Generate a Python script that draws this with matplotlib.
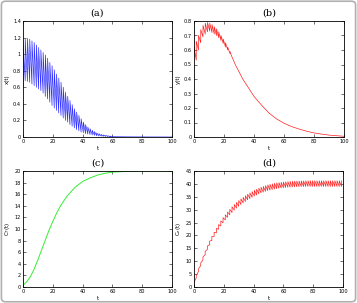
import numpy as np
import matplotlib
matplotlib.use("Agg")
import matplotlib.pyplot as plt
from matplotlib.patches import FancyBboxPatch
from matplotlib.ticker import FormatStrFormatter

# tooth spacing of the pulsed curves (time units)
period = 1.5

# (a) x(t): value after each pulse (peak) and just before it (trough)
a_peak = [1.13, 1.18, 1.19, 1.18, 1.16, 1.14, 1.11, 1.08, 1.05, 1.02,
          0.99, 0.95, 0.90, 0.86, 0.81, 0.76, 0.71, 0.66, 0.60, 0.54,
          0.49, 0.44, 0.39, 0.34, 0.30, 0.26, 0.22, 0.18, 0.15, 0.12,
          0.10, 0.08, 0.065, 0.05, 0.04, 0.03, 0.025, 0.02, 0.015, 0.01]
a_trough = [0.60, 0.68, 0.67, 0.66, 0.64, 0.62, 0.60, 0.58, 0.56, 0.53,
            0.49, 0.46, 0.42, 0.38, 0.35, 0.32, 0.29, 0.26, 0.23, 0.20,
            0.18, 0.15, 0.13, 0.11, 0.09, 0.075, 0.06, 0.05, 0.04, 0.035,
            0.03, 0.025, 0.02, 0.015, 0.012, 0.01, 0.008, 0.006, 0.005, 0.004]
a_tail_t = [60, 70, 80, 90, 100]
a_tail = [0.004, 0.002, 0.001, 0.0005, 0.0]

# (b) y(t)
b_peak = [0.62, 0.66, 0.70, 0.74, 0.77, 0.785, 0.79, 0.785, 0.775, 0.76,
          0.745, 0.725, 0.70, 0.675, 0.65, 0.62, 0.59]
b_trough = [0.565, 0.53, 0.60, 0.65, 0.69, 0.71, 0.725, 0.73, 0.72, 0.71,
            0.70, 0.685, 0.665, 0.645, 0.62, 0.60, 0.575]
b_tail_t = [25, 27.5, 30, 32.5, 35, 37.5, 40, 45, 50, 55, 60, 65, 70,
            75, 80, 85, 90, 95, 100]
b_tail = [0.56, 0.50, 0.45, 0.40, 0.36, 0.32, 0.28, 0.22, 0.165, 0.125,
          0.095, 0.072, 0.055, 0.04, 0.028, 0.02, 0.013, 0.009, 0.005]

# (c) smooth curve
c_t = [0, 2.5, 5, 7.5, 10, 12.5, 15, 17.5, 20, 22.5, 25, 27.5, 30, 35,
       40, 45, 50, 55, 60, 70, 80, 90, 100]
c_val = [0.3, 0.9, 1.8, 3.1, 4.7, 6.4, 8.1, 9.8, 11.3, 12.7, 13.9, 14.9,
         15.8, 17.2, 18.2, 18.8, 19.3, 19.6, 19.8, 19.95, 20.0, 20.0, 20.0]

# (d) value before each pulse, and the pulse size
d_low = [1.0, 3.5, 6.0, 8.3, 10.5, 12.6, 14.6, 16.4, 18.1, 19.6,
         21.0, 22.4, 23.7, 24.9, 26.0, 27.0, 28.0, 28.9, 29.8, 30.6,
         31.3, 32.0, 32.6, 33.2, 33.8, 34.3, 34.8, 35.3, 35.7, 36.1,
         36.5, 36.8, 37.1, 37.4, 37.6, 37.8, 38.0, 38.15, 38.3, 38.4,
         38.5, 38.6, 38.7, 38.75, 38.8, 38.85, 38.9, 38.9, 38.95, 38.95,
         39.0, 39.0, 39.0, 39.0, 39.0, 39.0, 39.0, 39.0, 39.0, 39.0,
         39.0, 39.0, 39.0, 39.0, 39.0, 39.0, 39.0]
d_jump = [0.8, 0.9, 1.0, 1.0, 1.1, 1.2, 1.3, 1.4, 1.5, 1.6,
          1.7, 1.8, 1.9, 2.0, 2.0, 2.1, 2.1, 2.2, 2.2, 2.2] + [2.2] * 47


def zigzag(low, high):
    # jump up at each pulse time, then straight down to the next trough
    tk = np.arange(len(low)) * period
    xs, ys = [], []
    for k in range(len(low)):
        xs += [tk[k], tk[k]]
        ys += [low[k], high[k]]
    return xs, ys


W, H = 357, 303
fig = plt.figure(figsize=(W / 100, H / 100), dpi=100)

# light frame round the picture
frame = FancyBboxPatch((0.004, 0.004), 0.992, 0.992,
                       boxstyle="round,pad=0,rounding_size=0.012",
                       transform=fig.transFigure, facecolor="white",
                       edgecolor="#b0b0b0", linewidth=1.2, zorder=-5)
fig.patches.append(frame)


def make_ax(px_left, px_top, px_w, px_h):
    ax = fig.add_axes([px_left / W, 1 - (px_top + px_h) / H, px_w / W, px_h / H])
    ax.tick_params(direction="in", length=2, width=0.4, labelsize=3.6,
                   top=True, right=True, pad=1.5)
    for s in ax.spines.values():
        s.set_linewidth(0.6)
    ax.set_xlim(0, 100)
    ax.set_xticks([0, 20, 40, 60, 80, 100])
    ax.set_xlabel("t", fontsize=4, labelpad=1.5)
    return ax


ax_a = make_ax(23, 21, 149, 116)
ax_b = make_ax(194, 21, 150, 116)
ax_c = make_ax(23, 171, 149, 116)
ax_d = make_ax(194, 171, 149, 116)

# (a)
xs, ys = zigzag(a_trough, a_peak)
xs += a_tail_t
ys += a_tail
ax_a.plot(xs, ys, color="#3030ff", linewidth=0.5)
ax_a.set_ylim(0, 1.4)
ax_a.set_yticks(np.arange(0, 1.41, 0.2))
ax_a.yaxis.set_major_formatter(FormatStrFormatter("%g"))
ax_a.set_ylabel("x(t)", fontsize=4, labelpad=2)

# (b)
xs, ys = zigzag(b_trough, b_peak)
xs += b_tail_t
ys += b_tail
ax_b.plot(xs, ys, color="#ff2020", linewidth=0.5)
ax_b.set_ylim(0, 0.8)
ax_b.set_yticks(np.arange(0, 0.81, 0.1))
ax_b.yaxis.set_major_formatter(FormatStrFormatter("%g"))
ax_b.set_ylabel("y(t)", fontsize=4, labelpad=2)

# (c)
ax_c.plot(c_t, c_val, color="#33ee33", linewidth=0.7)
ax_c.set_ylim(0, 20)
ax_c.set_yticks(np.arange(0, 21, 2))
ax_c.set_ylabel("C$_T$(t)", fontsize=4, labelpad=2)

# (d)
d_high = [v + j for v, j in zip(d_low, d_jump)]
xs, ys = zigzag(d_low, d_high)
ax_d.plot(xs, ys, color="#ff2020", linewidth=0.5)
ax_d.set_ylim(0, 45)
ax_d.set_yticks(np.arange(0, 46, 5))
ax_d.set_ylabel("C$_e$(t)", fontsize=4, labelpad=2)

for lab, x, y in [("(a)", 97.5, 13), ("(b)", 269, 13),
                  ("(c)", 97.5, 163), ("(d)", 269, 163)]:
    fig.text(x / W, 1 - y / H, lab, family="DejaVu Serif", fontsize=7,
             ha="center", va="center")

fig.savefig("out.png", dpi=100)
